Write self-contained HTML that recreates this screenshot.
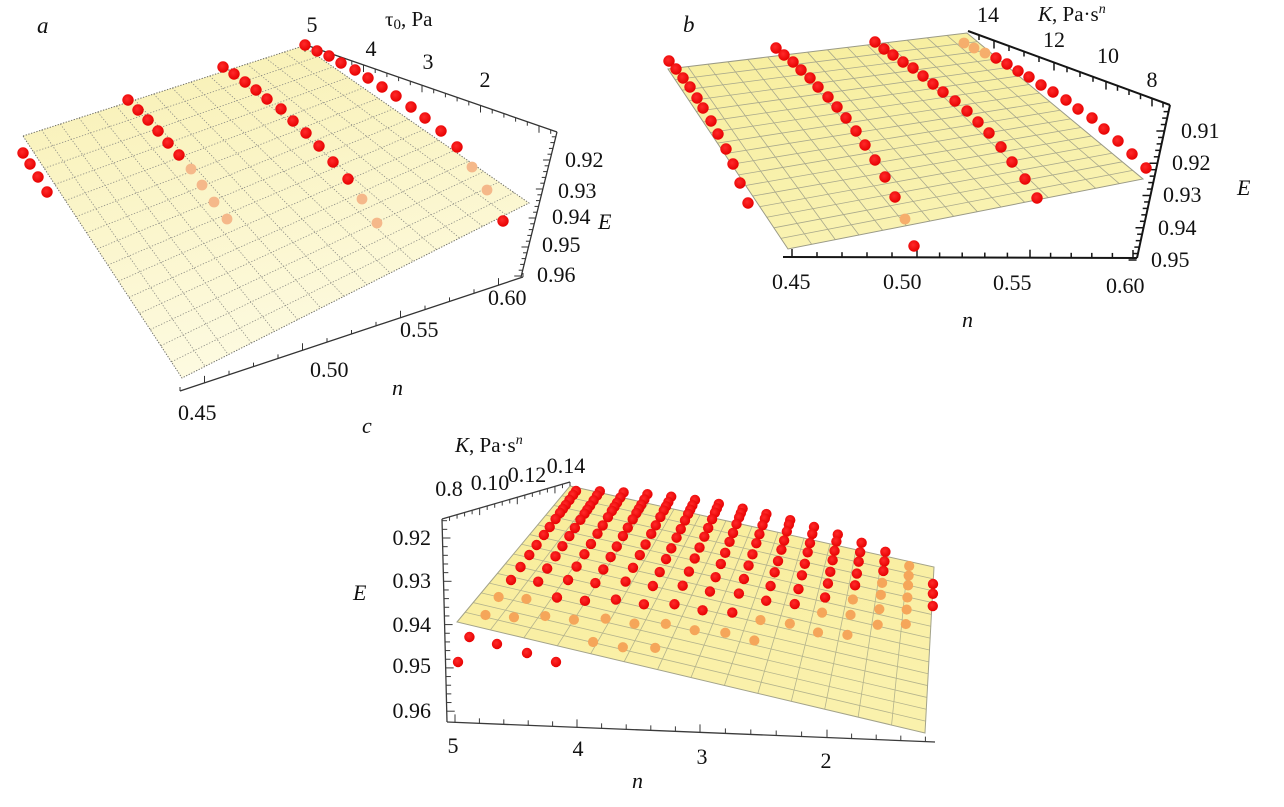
<!DOCTYPE html>
<html>
<head>
<meta charset="utf-8">
<style>
  html,body{margin:0;padding:0;background:#ffffff;}
  svg{display:block;}
  text{font-family:"Liberation Serif","DejaVu Serif",serif;fill:#111;}
  .it{font-style:italic;}
</style>
</head>
<body>
<svg id="svg" width="1284" height="807" viewBox="0 0 1284 807" xmlns="http://www.w3.org/2000/svg" font-family="Liberation Serif, serif">
  <defs>
    <linearGradient id="ga" x1="0" y1="0" x2="0.25" y2="1">
      <stop offset="0" stop-color="#f8f0b2"/>
      <stop offset="1" stop-color="#fdfae0"/>
    </linearGradient>
    <linearGradient id="gb" x1="0" y1="0" x2="0.3" y2="1">
      <stop offset="0" stop-color="#f7ee9d"/>
      <stop offset="1" stop-color="#f9f2b2"/>
    </linearGradient>
    <linearGradient id="gc" x1="0" y1="0" x2="0.3" y2="1">
      <stop offset="0" stop-color="#f8ec98"/>
      <stop offset="1" stop-color="#faf1ac"/>
    </linearGradient>
    <radialGradient id="rd" cx="0.42" cy="0.4" r="0.62">
      <stop offset="0" stop-color="#ff2a2a"/>
      <stop offset="1" stop-color="#e60000"/>
    </radialGradient>
  </defs>
  <g id="g"></g>

  <!-- Panel a text -->
  <text x="37" y="33" font-size="23" class="it">a</text>
  <text x="385" y="26" font-size="21">τ<tspan font-size="15" dy="3">0</tspan><tspan dy="-3">, Pa</tspan></text>
  <text x="312" y="32" font-size="22" text-anchor="middle">5</text>
  <text x="371" y="56" font-size="22" text-anchor="middle">4</text>
  <text x="428" y="69" font-size="22" text-anchor="middle">3</text>
  <text x="485" y="87" font-size="22" text-anchor="middle">2</text>
  <text x="565" y="167" font-size="22">0.92</text>
  <text x="558" y="198" font-size="22">0.93</text>
  <text x="552" y="224" font-size="22">0.94</text>
  <text x="542" y="252" font-size="22">0.95</text>
  <text x="537" y="282" font-size="22">0.96</text>
  <text x="598" y="229" font-size="22" class="it">E</text>
  <text x="488" y="305" font-size="22">0.60</text>
  <text x="400" y="337" font-size="22">0.55</text>
  <text x="310" y="377" font-size="22">0.50</text>
  <text x="178" y="420" font-size="22">0.45</text>
  <text x="392" y="395" font-size="22" class="it">n</text>

  <!-- Panel b text -->
  <text x="683" y="32" font-size="23" class="it">b</text>
  <text x="1038" y="21" font-size="21"><tspan class="it">K</tspan>, Pa·s<tspan font-size="14" dy="-8" class="it">n</tspan></text>
  <text x="988" y="22" font-size="22" text-anchor="middle">14</text>
  <text x="1054" y="47" font-size="22" text-anchor="middle">12</text>
  <text x="1108" y="63" font-size="22" text-anchor="middle">10</text>
  <text x="1152" y="87" font-size="22" text-anchor="middle">8</text>
  <text x="1181" y="138" font-size="22">0.91</text>
  <text x="1172" y="170" font-size="22">0.92</text>
  <text x="1163" y="202" font-size="22">0.93</text>
  <text x="1158" y="235" font-size="22">0.94</text>
  <text x="1151" y="267" font-size="22">0.95</text>
  <text x="1237" y="195" font-size="22" class="it">E</text>
  <text x="772" y="289" font-size="22">0.45</text>
  <text x="883" y="289" font-size="22">0.50</text>
  <text x="993" y="290" font-size="22">0.55</text>
  <text x="1106" y="293" font-size="22">0.60</text>
  <text x="962" y="327" font-size="22" class="it">n</text>

  <!-- Panel c text -->
  <text x="362" y="433" font-size="22" class="it">c</text>
  <text x="455" y="452" font-size="21"><tspan class="it">K</tspan>, Pa·s<tspan font-size="14" dy="-8" class="it">n</tspan></text>
  <text x="449" y="496" font-size="22" text-anchor="middle">0.8</text>
  <text x="490" y="490" font-size="22" text-anchor="middle">0.10</text>
  <text x="527" y="482" font-size="22" text-anchor="middle">0.12</text>
  <text x="566" y="473" font-size="22" text-anchor="middle">0.14</text>
  <text x="431" y="545" font-size="22" text-anchor="end">0.92</text>
  <text x="431" y="588" font-size="22" text-anchor="end">0.93</text>
  <text x="431" y="632" font-size="22" text-anchor="end">0.94</text>
  <text x="431" y="673" font-size="22" text-anchor="end">0.95</text>
  <text x="431" y="718" font-size="22" text-anchor="end">0.96</text>
  <text x="353" y="600" font-size="22" class="it">E</text>
  <text x="453" y="753" font-size="22" text-anchor="middle">5</text>
  <text x="578" y="756" font-size="22" text-anchor="middle">4</text>
  <text x="702" y="764" font-size="22" text-anchor="middle">3</text>
  <text x="826" y="768" font-size="22" text-anchor="middle">2</text>
  <text x="632" y="788" font-size="22" class="it">n</text>
</svg>

<script>
(function(){
  var NS = "http://www.w3.org/2000/svg";
  var G = document.getElementById("g");
  function mk(tag, a){
    var e = document.createElementNS(NS, tag);
    for (var k in a) e.setAttribute(k, a[k]);
    G.appendChild(e);
    return e;
  }
  function lerp(P, Q, t){ return [P[0] + (Q[0]-P[0])*t, P[1] + (Q[1]-P[1])*t]; }
  function line(P, Q, stroke, w, dash){
    var a = {x1:P[0].toFixed(2), y1:P[1].toFixed(2), x2:Q[0].toFixed(2), y2:Q[1].toFixed(2), stroke:stroke, "stroke-width":w};
    if (dash) a["stroke-dasharray"] = dash;
    mk("line", a);
  }
  function surface(A,B,C,D,nu,nv,fill,gs,gw,gdash,es,edash){
    mk("polygon", {points:[A,B,C,D].map(function(p){return p[0]+","+p[1];}).join(" "), fill:fill, stroke:"none"});
    for (var i=1;i<nu;i++){ var t=i/nu; line(lerp(A,B,t), lerp(D,C,t), gs, gw, gdash); }
    for (var j=1;j<nv;j++){ var t2=j/nv; line(lerp(A,D,t2), lerp(B,C,t2), gs, gw, gdash); }
    var a = {points:[A,B,C,D].map(function(p){return p[0]+","+p[1];}).join(" "), fill:"none", stroke:es, "stroke-width":1};
    if (edash) a["stroke-dasharray"] = edash;
    mk("polygon", a);
  }
  function dot(x,y,r,fill){ mk("circle",{cx:x.toFixed(2),cy:y.toFixed(2),r:r,fill:fill}); }
  function tick(P, dir, len, stroke, w){ line(P, [P[0]+dir[0]*len, P[1]+dir[1]*len], stroke, w); }
  function inPoly(x,y,P){
    var ins=false;
    for (var i=0,j=P.length-1;i<P.length;j=i++){
      var xi=P[i][0], yi=P[i][1], xj=P[j][0], yj=P[j][1];
      if (((yi>y)!=(yj>y)) && (x < (xj-xi)*(y-yi)/(yj-yi)+xi)) ins=!ins;
    }
    return ins;
  }
  var RED = "url(#rd)";

  /* ================= Panel a ================= */
  surface([23,136],[303,46],[529,203],[182,378], 15, 15, "url(#ga)", "#8c8c84", 0.8, "1.3,1.7", "#6e6e66", "1.3,1.5");

  var AC = "#333";
  line([303,44],[557,132], AC, 1.3);
  line([557,132],[521,277], AC, 1.3);
  line([523,277],[180,391], AC, 1.3);
  for (var i=0;i<=21;i++){
    var x = 305 + 11.7*i; var t=(x-303)/254;
    var P = lerp([303,44],[557,132],t);
    tick(P,[0,1], (i%5==0)?7:4, AC, 1);
  }
  for (var i=-4;i<=20;i++){
    var y = 160 + 5.8*i; var t=(y-132)/145;
    var P = lerp([557,132],[521,277],t);
    tick(P,[-1,0], (i%5==0)?7:4, AC, 1);
  }
  for (var i=0;i<=14;i++){
    var P = lerp([523,277],[180,391], i/14);
    tick(P,[0,-1], (i%4==1)?7:4, AC, 1);
  }
  var aRed = [[23,153],[30,164],[38,177],[47,192],
    [128,100],[138,110],[148,120],[158,131],[168,143],[179,155],
    [223,67],[234,74],[245,82],[256,90],[267,99],[281,109],[293,121],[306,133],[319,146],[333,162],[348,179],
    [305,45],[317,51],[329,56],[341,63],[355,70],[368,78],[382,87],[396,96],[411,107],[425,118],[441,131],[457,147],[503,221]];
  var aOr = [[191,169],[202,185],[214,202],[227,219],[362,199],[377,223],[472,167],[487,190]];
  aOr.forEach(function(p){dot(p[0],p[1],5.4,"#f5b88a");});
  aRed.forEach(function(p){dot(p[0],p[1],5.7,RED);});

  /* ================= Panel b ================= */
  surface([668,69],[967,33],[1143,179],[788,249], 15, 17, "url(#gb)", "#a9a98c", 0.8, null, "#9a9a86", null);
  var BC = "#151515";
  line([783,257],[1137,258], BC, 2);
  line([1137,258],[1170,105], BC, 2);
  line([1170,105],[968,31], BC, 2);
  var nm = [792,917,1030,1133];
  for (var s=0;s<3;s++){
    for (var k=0;k<5;k++){
      var x = nm[s] + (nm[s+1]-nm[s])*k/5;
      tick([x,257+(x-783)/354],[0,-1], k==0?8:5, BC, 1.5);
    }
  }
  tick([1133,258],[0,-1],8,BC,1.5);
  for (var i=-3;i<=20;i++){
    var y = 131 + 6.45*i; var t=(258-y)/153;
    var P = lerp([1137,258],[1170,105],t);
    tick(P,[-1,0], (i%5==0)?8:5, BC, 1.5);
  }
  var kx = [1163,1152,1140.5,1129,1117.5,1106,1093,1080,1067,1054,1039,1024,1009,994,979];
  kx.forEach(function(x,idx){
    var t=(1170-x)/202; var P=lerp([1170,105],[968,31],t);
    tick(P,[0,1], (idx%4==1)?8:5, BC, 1.5);
  });
  var bRed = [[669,61],[676,69],[683,78],[690,87],[697,98],[703,108],[711,121],[718,134],[726,149],[733,164],[740,183],[748,203],
    [776,48],[784,55],[793,62],[801,70],[810,78],[818,87],[828,97],[837,107],[846,118],[856,131],[865,145],[875,160],[885,177],[895,197],[914,246],
    [875,42],[884,49],[893,55],[903,62],[913,68],[923,76],[933,84],[943,92],[955,101],[967,111],[978,122],[989,133],[1001,147],[1012,162],[1025,179],[1037,198],
    [996,58],[1007,64],[1018,71],[1029,77],[1041,85],[1053,92],[1066,100],[1078,109],[1092,118],[1104,129],[1118,141],[1132,154],[1146,168]];
  var bOr = [[905,219],[964,43],[974,48],[985,53]];
  bOr.forEach(function(p){dot(p[0],p[1],5.4,"#f6ae6c");});
  bRed.forEach(function(p){dot(p[0],p[1],5.7,RED);});

  /* ================= Panel c ================= */
  var polyC = [[570,486],[934,567],[925,733],[457,622]];
  surface(polyC[0],polyC[1],polyC[2],polyC[3], 14, 14, "url(#gc)", "#b4b38c", 0.8, null, "#a3a38a", null);
  var CC = "#3a3a3a";
  line([442,519],[447,722], CC, 1.3);
  line([442,519],[570,482], CC, 1.3);
  line([447,722],[935,742], CC, 1.3);
  for (var i=-2;i<=20;i++){
    var y = 538 + 8.66*i; var t=(y-519)/203;
    var P = lerp([442,519],[447,722],t);
    tick(P,[1,0], (i%5==0)?8:5, CC, 1);
  }
  for (var i=0;i<=17;i++){
    var P = lerp([442,519],[570,482], i/17);
    tick(P,[0,1], (i%5==0)?7:4, CC, 1);
  }
  var cm = [455,577,700,827,950];
  for (var s=0;s<4;s++){
    for (var k=0;k<5;k++){
      var x = cm[s] + (cm[s+1]-cm[s])*k/5;
      if (x>933) break;
      var t=(x-447)/488; var P=lerp([447,722],[935,742],t);
      tick(P,[0,-1], k==0?8:5, CC, 1);
    }
  }
  var bnd = [[430,572],[495,582],[550,594],[607,607],[635,614],[700,616],[760,618],[790,614],[820,610],[851,597],[882,574],[910,555],[950,530]];
  function bY(x){
    if (x<=bnd[0][0]) return bnd[0][1];
    for (var i=1;i<bnd.length;i++){
      if (x<=bnd[i][0]){ var t=(x-bnd[i-1][0])/(bnd[i][0]-bnd[i-1][0]); return bnd[i-1][1]+(bnd[i][1]-bnd[i-1][1])*t; }
    }
    return bnd[bnd.length-1][1];
  }
  var Dt=[0,4,9,14,18,22,28,36,44,54,64,76,89,106,124,146];
  var reds=[], ors=[];
  for (var c=0;c<16;c++){
    var Tx=576+23.8*c, Ty=491+0.36*c*c;
    if (c==14) Ty=566;
    if (c==15) Ty=584;
    var st=Math.round(0.46*c); if (c==15) st=7;
    var kk=-0.73+0.048*c, sc=1+0.015*c;
    var maxY = c<=3 ? 665 : (665-3.2*(c-3));
    if (c==15) maxY=612;
    for (var r=st;r<16;r++){
      var dy=(Dt[r]-Dt[st])*sc, x=Tx+kk*dy, y=Ty+dy;
      if (y>maxY) break;
      if (c>=1 && c<=3 && r==15) continue;
      var orange = (c<15) && inPoly(x,y,polyC) && (y > bY(x)+2 || c==14);
      if (orange) ors.push([x,y]); else reds.push([x,y]);
    }
  }
  reds.push([458,662]);
  reds.push([497,644]);
  reds.push([527,653]);
  reds.push([556,662]);
  ors.forEach(function(p){dot(p[0],p[1],5.1,"#f5a65a");});
  reds.forEach(function(p){dot(p[0],p[1],5.2,RED);});
})();
</script>
</body>
</html>
